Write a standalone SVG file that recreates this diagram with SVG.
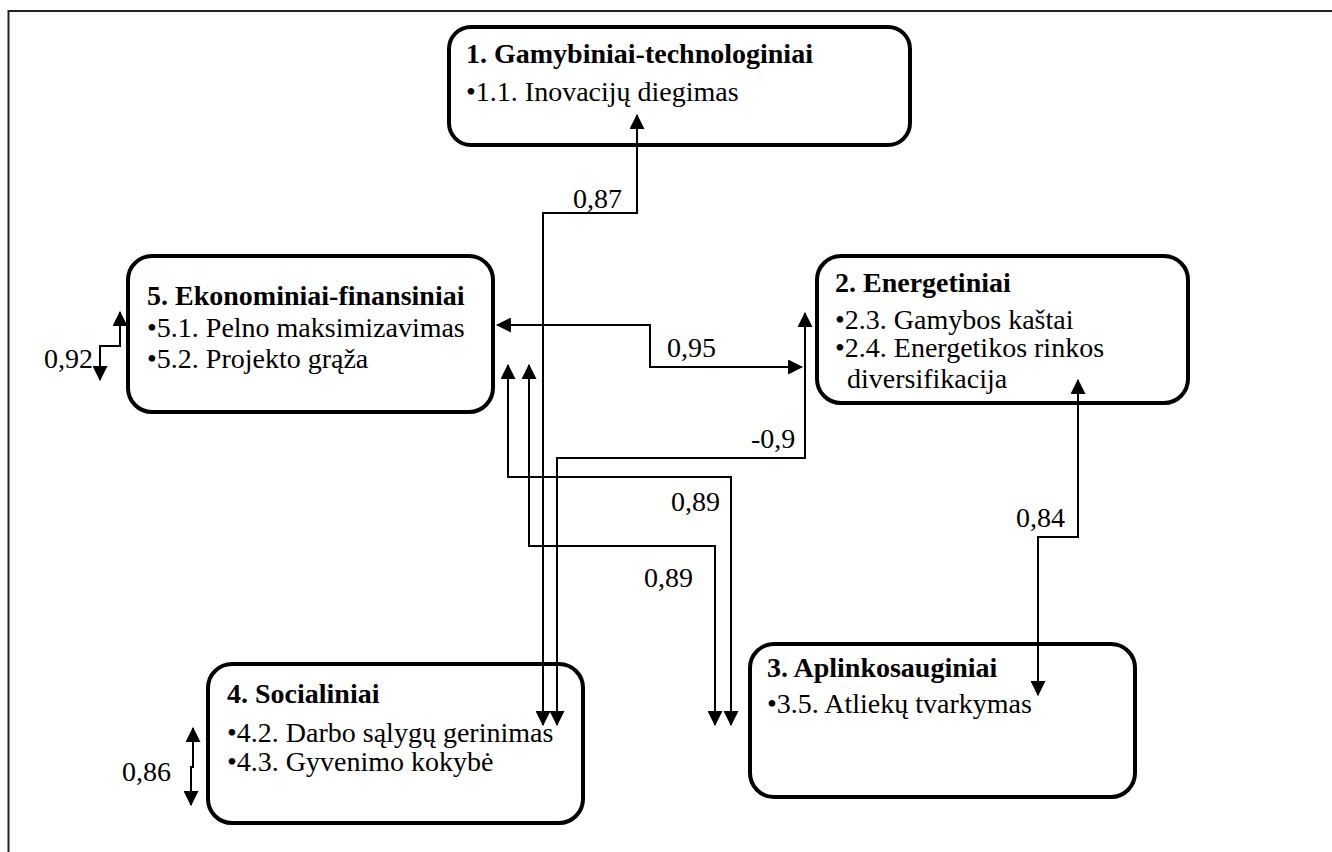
<svg xmlns="http://www.w3.org/2000/svg" width="1332" height="852" viewBox="0 0 1332 852">
  <style>
    .box { fill: #fff; stroke: #000; stroke-width: 4; }
    .frame { fill: none; stroke: #222; stroke-width: 2; }
    .wire { fill: none; stroke: #000; stroke-width: 2; marker-start: url(#head); marker-end: url(#head); }
    text { font-family: "Liberation Serif", "Times New Roman", "DejaVu Serif", serif; font-size: 28px; fill: #000; }
    .title { font-weight: bold; }
  </style>
  <defs>
    <marker id="head" viewBox="0 0 14 14" refX="13" refY="7" markerWidth="15" markerHeight="15" markerUnits="userSpaceOnUse" orient="auto-start-reverse">
      <path d="M0,0 L14,7 L0,14 z" fill="#000"/>
    </marker>
  </defs>

  <!-- page frame (top and left rules only) -->
  <path class="frame" d="M1332,11 H8.5 V852"/>

  <g id="node1">
    <rect class="box" x="449" y="27" width="461" height="118" rx="22"/>
    <text class="title" x="466" y="63">1. Gamybiniai-technologiniai</text>
    <text x="466" y="101">•1.1. Inovacijų diegimas</text>
  </g>

  <g id="node5">
    <rect class="box" x="128" y="256" width="365" height="156" rx="24"/>
    <text class="title" x="147" y="305">5. Ekonominiai-finansiniai</text>
    <text x="147" y="337">•5.1. Pelno maksimizavimas</text>
    <text x="147" y="368">•5.2. Projekto grąža</text>
  </g>

  <g id="node2">
    <rect class="box" x="817" y="256" width="371" height="147" rx="24"/>
    <text class="title" x="835" y="292">2. Energetiniai</text>
    <text x="835" y="329">•2.3. Gamybos kaštai</text>
    <text x="835" y="357">•2.4. Energetikos rinkos</text>
    <text x="847" y="388">diversifikacija</text>
  </g>

  <g id="node3">
    <rect class="box" x="750" y="644" width="385" height="153" rx="24"/>
    <text class="title" x="767" y="677">3. Aplinkosauginiai</text>
    <text x="767" y="713">•3.5. Atliekų tvarkymas</text>
  </g>

  <g id="node4">
    <rect class="box" x="208" y="664" width="375" height="159" rx="24"/>
    <text class="title" x="227" y="703">4. Socialiniai</text>
    <text x="227" y="742">•4.2. Darbo sąlygų gerinimas</text>
    <text x="227" y="771">•4.3. Gyvenimo kokybė</text>
  </g>

  <!-- connectors drawn over the boxes: heads sit inside the boxes -->
  <g id="connectors">
    <path class="wire" d="M543,725 V213 H637 V115"/>
    <path class="wire" d="M557,725 V458 H805 V313"/>
    <path class="wire" d="M497,325 H650 V367 H802"/>
    <path class="wire" d="M508,365 V477 H731 V725"/>
    <path class="wire" d="M529,365 V546 H715 V725"/>
    <path class="wire" d="M1078,380 V537 H1038 V695"/>
    <path class="wire" d="M120,312 V346 H100 V380"/>
    <path class="wire" d="M193,728 V767 H191 V805"/>
    <text x="573" y="208">0,87</text>
    <text x="667" y="357">0,95</text>
    <text x="751" y="448">-0,9</text>
    <text x="671" y="511">0,89</text>
    <text x="644" y="587">0,89</text>
    <text x="1016" y="527">0,84</text>
    <text x="93" y="368" text-anchor="end">0,92</text>
    <text x="122" y="781">0,86</text>
  </g>
</svg>
